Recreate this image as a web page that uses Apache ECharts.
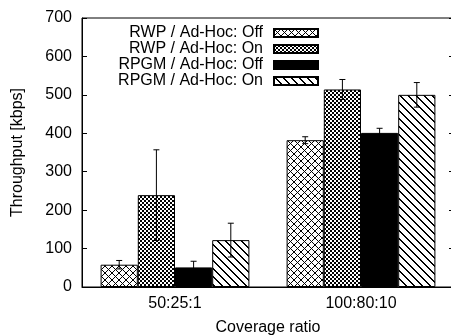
<!DOCTYPE html>
<html>
<head>
<meta charset="utf-8">
<script src="https://cdn.jsdelivr.net/npm/echarts@6/dist/echarts.min.js"></script>
<style>
  html, body { margin: 0; padding: 0; background: #fff; }
  #chart { width: 451px; height: 336px; }
</style>
</head>
<body>
<div id="chart"></div>
<script>
const categories = ['50:25:1', '100:80:10'];
const seriesNames = ['RWP / Ad-Hoc: Off', 'RWP / Ad-Hoc: On', 'RPGM / Ad-Hoc: Off', 'RPGM / Ad-Hoc: On'];
const rwpOff = [58, 382];
const rwpOn = [239, 514];
const rpgmOff = [51, 401];
const rpgmOn = [122, 500];
const rwpOffErr = [11, 9];
const rwpOnErr = [118, 26];
const rpgmOffErr = [16, 12];
const rpgmOnErr = [44, 32];
const yTicks = [0, 100, 200, 300, 400, 500, 600, 700];

const values = [rwpOff, rwpOn, rpgmOff, rpgmOn];
const errs = [rwpOffErr, rwpOnErr, rpgmOffErr, rpgmOnErr];

// fill patterns, drawn pixel by pixel on small tiles
function tile(size, draw) {
    const c = document.createElement('canvas');
    c.width = size; c.height = size;
    const ctx = c.getContext('2d');
    ctx.fillStyle = '#fff';
    ctx.fillRect(0, 0, size, size);
    ctx.fillStyle = '#000';
    draw(ctx, size);
    return { image: c, repeat: 'repeat' };
}
const crossHatch = tile(7, (ctx, s) => {
    for (let i = 0; i < s; i++) {
        ctx.fillRect(i, i, 1, 1);
        ctx.fillRect(s - 1 - i, i, 1, 1);
    }
});
const checker = tile(4, (ctx) => {
    ctx.fillRect(0, 0, 2, 2);
    ctx.fillRect(2, 2, 2, 2);
});
const diagonal = tile(8, (ctx, s) => {
    for (let i = 0; i < s; i++) {
        ctx.fillRect(i, i, 1, 1);
        ctx.fillRect((i + 1) % s, i, 1, 1);
    }
});
const fills = [crossHatch, checker, '#000', diagonal];

const font = 'Liberation Sans, Arial, sans-serif';
const chart = echarts.init(document.getElementById('chart'));

const barSeries = seriesNames.map((name, k) => ({
    name: name,
    type: 'bar',
    barGap: '0%',
    barCategoryGap: '20%',
    itemStyle: { color: fills[k], borderColor: '#000', borderWidth: 1 },
    emphasis: { disabled: true },
    data: values[k]
}));

const errSeries = seriesNames.map((name, k) => ({
    type: 'custom',
    silent: true,
    z: 5,
    renderItem(params, api) {
        const x = api.value(0);
        const lo = api.coord([x, api.value(1)]);
        const hi = api.coord([x, api.value(2)]);
        const band = api.size([1, 0])[0];
        const bw = band * 0.8 / 4;
        const cx = lo[0] + (k - 1.5) * bw;
        const cap = 3;
        const st = { stroke: '#000', lineWidth: 1 };
        return {
            type: 'group',
            children: [
                { type: 'line', shape: { x1: cx, y1: lo[1], x2: cx, y2: hi[1] }, style: st },
                { type: 'line', shape: { x1: cx - cap, y1: lo[1], x2: cx + cap, y2: lo[1] }, style: st },
                { type: 'line', shape: { x1: cx - cap, y1: hi[1], x2: cx + cap, y2: hi[1] }, style: st }
            ]
        };
    },
    data: values[k].map((v, i) => [i, v - errs[k][i], v + errs[k][i]])
}));

chart.setOption({
    animation: false,
    textStyle: { fontFamily: font, color: '#000' },
    grid: {
        left: 82, top: 18, width: 372, bottom: 49,
        outerBoundsMode: 'none',
        show: true, borderColor: '#000', borderWidth: 1
    },
    legend: {
        data: seriesNames,
        orient: 'vertical',
        align: 'right',
        right: 127,
        top: 20,
        itemGap: 0,
        itemWidth: 44,
        itemHeight: 8,
        icon: 'rect',
        selectedMode: false,
        textStyle: { fontSize: 16, lineHeight: 16, color: '#000', fontFamily: font, padding: [0, 6, 0, 0] }
    },
    xAxis: {
        type: 'category',
        data: categories,
        name: 'Coverage ratio',
        nameLocation: 'middle',
        nameGap: 33,
        nameTextStyle: { fontSize: 16, color: '#000' },
        axisLine: { lineStyle: { color: '#000' } },
        axisTick: { show: false },
        axisLabel: { fontSize: 16, color: '#000', margin: 9 }
    },
    yAxis: [{
        type: 'value',
        min: yTicks[0],
        max: yTicks[yTicks.length - 1],
        interval: 100,
        name: 'Throughput [kbps]',
        nameLocation: 'middle',
        nameGap: 56,
        nameTextStyle: { fontSize: 16, color: '#000' },
        axisLine: { show: true, lineStyle: { color: '#000' } },
        axisTick: { show: true, inside: true, length: 5, lineStyle: { color: '#000' } },
        axisLabel: { fontSize: 16, color: '#000', margin: 10 },
        splitLine: { show: false }
    }, {
        type: 'value',
        position: 'right',
        min: yTicks[0],
        max: yTicks[yTicks.length - 1],
        interval: 100,
        axisLine: { show: true, lineStyle: { color: '#000' } },
        axisTick: { show: true, inside: true, length: 5, lineStyle: { color: '#000' } },
        axisLabel: { show: false },
        splitLine: { show: false }
    }],
    series: barSeries.concat(errSeries)
});
</script>
</body>
</html>
